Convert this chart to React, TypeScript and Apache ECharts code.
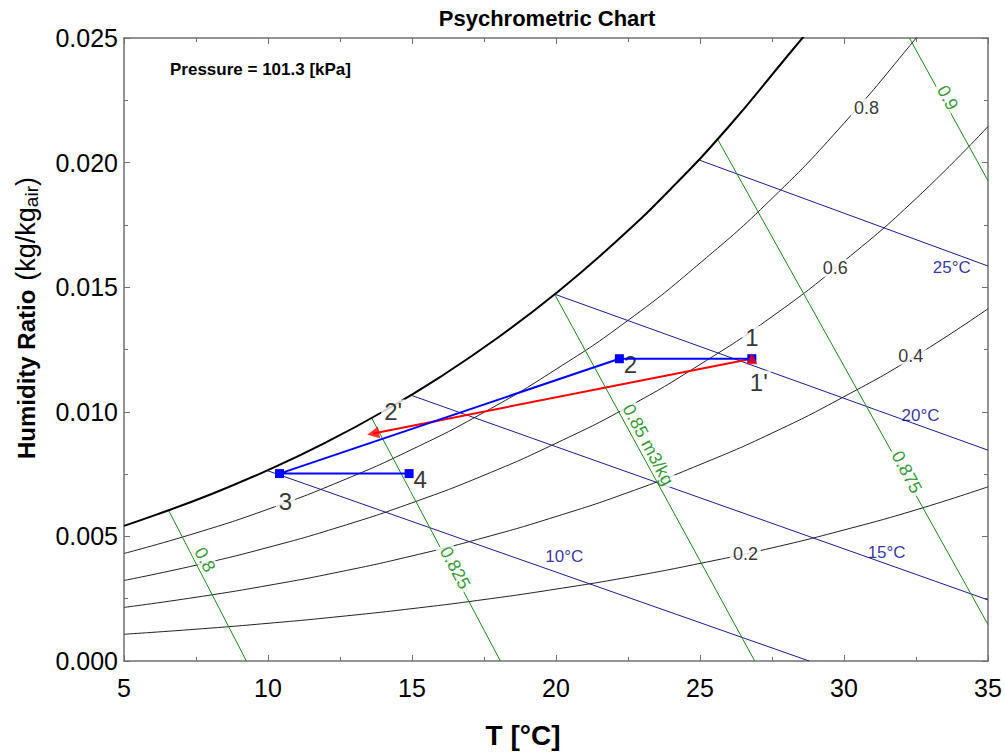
import React, { useEffect, useRef } from "react";
import * as echarts from "echarts";

const FONT = "Arial, 'Liberation Sans', Helvetica, sans-serif";

// Saturation curve (RH = 1.0)
const satT = [5, 6, 8, 10, 12, 14, 16, 18, 20, 22, 24, 26, 28, 29];
const satW = [0.005424, 0.005822, 0.006683, 0.007661, 0.008766, 0.010012, 0.011413, 0.012989, 0.014758, 0.016741, 0.018963, 0.021448, 0.024228, 0.025616];

// Relative humidity curves
const rhT = [5, 7.5, 10, 12.5, 15, 17.5, 20, 22.5, 25, 27.5, 30, 32.5, 35];
const rh20W = [0.001073, 0.001276, 0.001512, 0.001785, 0.002101, 0.002465, 0.002885, 0.003362, 0.003916, 0.004539, 0.005258, 0.006065, 0.006989];
const rh40W = [0.00215, 0.002558, 0.003031, 0.00358, 0.004217, 0.00495, 0.005797, 0.00676, 0.007882, 0.009145, 0.010606, 0.012249, 0.014136];
const rh60W = [0.003231, 0.003845, 0.004557, 0.005386, 0.006347, 0.007454, 0.008737, 0.010196, 0.011899, 0.013819, 0.016046, 0.018556, 0.021447];
const rh80T = [5, 7.5, 10, 12.5, 15, 17.5, 20, 22.5, 25, 27.5, 30, 32.5, 33];
const rh80W = [0.004315, 0.005137, 0.006091, 0.007202, 0.008491, 0.009979, 0.011704, 0.013669, 0.015967, 0.018562, 0.02158, 0.02499, 0.025746];
const rhLabels = ["0.8", "0.6", "0.4", "0.2"];
const rhLabelT = [30.78, 29.7, 32.32, 26.58];
const rhLabelW = [0.0222, 0.01578, 0.01225, 0.00431];

// Wet-bulb lines [T, W] start and end
const wbNames = ["10°C", "15°C", "20°C", "25°C"];
const wbStartT = [10, 15, 20, 25];
const wbStartW = [0.00763, 0.01065, 0.0147, 0.02009];
const wbEndT = [28.79, 35, 35, 35];
const wbEndW = [0, 0.00245, 0.00846, 0.01585];
const wbLabelT = [20.29, 31.48, 32.66, 33.74];
const wbLabelW = [0.00418, 0.00434, 0.00985, 0.01578];

// Specific volume lines
const vNames = ["0.8", "0.825", "0.85 m3/kg", "0.875", "0.9"];
const vStartT = [6.55, 13.6, 19.97, 25.63, 32.27];
const vStartW = [0.00604, 0.00975, 0.01468, 0.0209, 0.025];
const vEndT = [9.25, 18.07, 26.9, 35, 35];
const vEndW = [0, 0, 0, 0.00146, 0.01927];
const vLabelT = [7.81, 16.5, 23.2, 32.18, 33.6];
const vLabelW = [0.004065, 0.00374, 0.00868, 0.00758, 0.0226];

// Process states
const stateNames = ["1", "2", "3", "4"];
const stateT = [26.8, 22.2, 10.4, 14.9];
const stateW = [0.01213, 0.01213, 0.00752, 0.00752];
const redNames = ["1'", "2'"];
const redT = [26.8, 13.65];
const redW = [0.01213, 0.00913];

const zip = (a: number[], b: number[]) => a.map((v, i) => [v, b[i]]);

export default function App() {
  const ref = useRef<HTMLDivElement>(null);
  useEffect(() => {
    document.body.style.margin = "0";
    const chart = echarts.init(ref.current!, null, { renderer: "svg" });

    const axisColor = "#707070";
    const xBase: any = {
      type: "value",
      min: 5,
      max: 35,
      interval: 5,
      splitLine: { show: false },
      axisLine: { show: true, onZero: false, lineStyle: { color: axisColor, width: 1.5 } },
      axisTick: { show: true, inside: true, length: 6, lineStyle: { color: axisColor } },
      minorTick: { show: true, splitNumber: 2, length: 4, lineStyle: { color: axisColor } },
    };
    const yBase: any = {
      type: "value",
      min: 0,
      max: 0.025,
      interval: 0.005,
      splitLine: { show: false },
      axisLine: { show: true, onZero: false, lineStyle: { color: axisColor, width: 1.5 } },
      axisTick: { show: true, inside: true, length: 6, lineStyle: { color: axisColor } },
      minorTick: { show: true, splitNumber: 2, length: 4, lineStyle: { color: axisColor } },
    };

    const line = (data: number[][], color: string, width: number, smooth = false, z = 2) => ({
      type: "line",
      data,
      symbol: "none",
      showSymbol: false,
      smooth,
      silent: true,
      z,
      lineStyle: { color, width },
    });

    const labelSeries = (
      names: string[],
      xs: number[],
      ys: number[],
      color: string,
      fontSize: number,
      rotate: number,
      bg: boolean,
      offsets?: number[][]
    ) => ({
      type: "scatter",
      silent: true,
      z: 6,
      symbolSize: 0,
      data: names.map((n, i) => ({
        value: [xs[i], ys[i]],
        name: n,
        label: offsets ? { offset: offsets[i] } : undefined,
      })),
      label: {
        show: true,
        position: "inside",
        formatter: (p: any) => p.name,
        color,
        fontSize,
        fontFamily: FONT,
        rotate,
        backgroundColor: bg ? "#ffffff" : "transparent",
        padding: bg ? [0, 3] : 0,
      },
    });

    const series: any[] = [];
    series.push(line(zip(rhT, rh20W), "#222", 1, true));
    series.push(line(zip(rhT, rh40W), "#222", 1, true));
    series.push(line(zip(rhT, rh60W), "#222", 1, true));
    series.push(line(zip(rh80T, rh80W), "#222", 1, true));
    series.push(line(zip(satT, satW), "#000", 2, true, 3));
    wbNames.forEach((_, i) =>
      series.push(line([[wbStartT[i], wbStartW[i]], [wbEndT[i], wbEndW[i]]], "#1c1c8e", 1))
    );
    vNames.forEach((_, i) =>
      series.push(line([[vStartT[i], vStartW[i]], [vEndT[i], vEndW[i]]], "#1a8a1a", 1))
    );
    series.push(labelSeries(rhLabels, rhLabelT, rhLabelW, "#000", 18, 0, true));
    series.push(labelSeries(vNames, vLabelT, vLabelW, "#008000", 18, -62, true));
    series.push(labelSeries(wbNames, wbLabelT, wbLabelW, "#000080", 17, 0, false));

    // Process lines
    series.push({
      type: "line",
      data: zip(redT, redW),
      symbol: "none",
      silent: true,
      z: 10,
      lineStyle: { color: "#ff0000", width: 2 },
    });
    series.push({
      type: "line",
      data: zip(stateT, stateW),
      symbol: "rect",
      symbolSize: 9,
      showSymbol: true,
      silent: true,
      z: 11,
      itemStyle: { color: "#0000ff" },
      lineStyle: { color: "#0000ff", width: 2 },
    });
    series.push({
      type: "scatter",
      silent: true,
      z: 12,
      data: [
        { value: [redT[0], redW[0]], symbol: "triangle", symbolSize: 11, symbolRotate: 0 },
        { value: [redT[1], redW[1]], symbol: "triangle", symbolSize: 12, symbolRotate: 101 },
      ],
      itemStyle: { color: "#ff0000" },
    });
    // Point labels
    series.push(
      labelSeries(
        stateNames.concat(redNames),
        stateT.concat(redT),
        stateW.concat(redW),
        "#000",
        24,
        0,
        true,
        [[0, -21], [11, 6], [6, 28], [11, 6], [7, 24], [20, -22]]
      )
    );

    chart.setOption({
      animation: false,
      grid: { left: 124, right: 17, top: 38, bottom: 93, containLabel: false },
      xAxis: [
        { ...xBase, position: "bottom", axisLabel: { fontSize: 25, color: "#000", fontFamily: FONT, margin: 14 } },
        { ...xBase, position: "top", axisLabel: { show: false } },
      ],
      yAxis: [
        {
          ...yBase,
          position: "left",
          axisLabel: { fontSize: 25, color: "#000", fontFamily: FONT, margin: 6, formatter: (v: number) => v.toFixed(3) },
        },
        { ...yBase, position: "right", axisLabel: { show: false } },
      ],
      graphic: [
        {
          type: "text",
          x: 547,
          y: 18,
          style: { text: "Psychrometric Chart", fontSize: 22, fontWeight: "bold", fontFamily: FONT, fill: "#000", align: "center", verticalAlign: "middle" },
        },
        {
          type: "text",
          x: 170,
          y: 69,
          style: { text: "Pressure = 101.3 [kPa]", fontSize: 17, fontWeight: "bold", fontFamily: FONT, fill: "#000", align: "left", verticalAlign: "middle" },
        },
        {
          type: "text",
          x: 523,
          y: 735,
          style: { text: "T [°C]", fontSize: 28, fontWeight: "bold", fontFamily: FONT, fill: "#000", align: "center", verticalAlign: "middle" },
        },
        {
          type: "text",
          x: 26,
          y: 318,
          rotation: Math.PI / 2,
          style: {
            text: "{b|Humidity Ratio}{g| }{n|(kg/kg}{s|air}{n|)}",
            fontFamily: FONT,
            fill: "#000",
            align: "center",
            verticalAlign: "middle",
            rich: {
              b: { fontSize: 24, fontWeight: "bold", fontFamily: FONT, lineHeight: 30, verticalAlign: "middle" },
              g: { fontSize: 24, fontFamily: FONT, lineHeight: 30, width: 9, verticalAlign: "middle" },
              n: { fontSize: 27, fontFamily: FONT, lineHeight: 30, verticalAlign: "middle" },
              s: { fontSize: 19, fontFamily: FONT, lineHeight: 12, verticalAlign: "bottom" },
            },
          },
        },
      ],
      series,
    });
    return () => chart.dispose();
  }, []);
  return <div ref={ref} style={{ width: 1005, height: 754 }} />;
}
